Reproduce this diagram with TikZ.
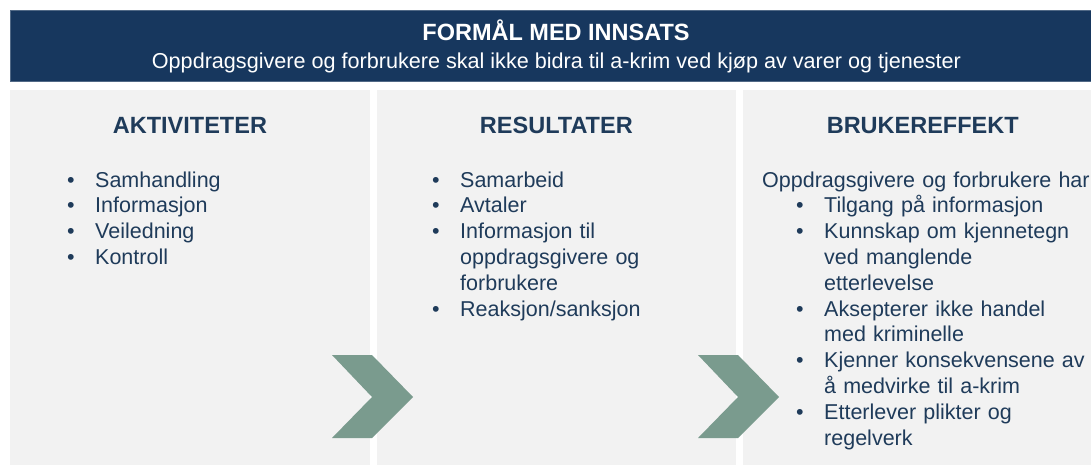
\documentclass[tikz,border=0pt]{standalone}
\usepackage{fontspec}
\setmainfont{Liberation Sans}
\usetikzlibrary{positioning}
\definecolor{navy}{HTML}{17375E}
\definecolor{inknavy}{HTML}{1F3B5A}
\definecolor{panelgray}{HTML}{F2F2F2}
\definecolor{sage}{HTML}{7A9B8E}
\newcommand{\itm}[1]{\hangindent=28pt\hangafter=1\makebox[28pt][l]{\textbullet}#1\par}

\begin{document}
\begin{tikzpicture}
    [
        x=1pt, y=-1pt,
        banner/.style={rectangle, fill=navy, draw=navy!75!white, line width=0.8pt, minimum width=1092pt, minimum height=71pt, inner sep=0pt, anchor=north west},
        panel/.style={rectangle, fill=panelgray, minimum width=359.5pt, minimum height=377pt, inner sep=0pt},
        head/.style={font=\bfseries\fontsize{23.5}{28}\selectfont, text=inknavy, inner sep=0pt, anchor=base},
        list/.style={anchor=base west, inner sep=0pt, text width=330pt, align=left, text=inknavy, font=\fontsize{21.5}{25.8}\selectfont},
        chev/.style={fill=sage},
    ]
        \useasboundingbox (0,0) rectangle (1091,465);
        \node[banner] (banner) at (10,10) {} ;
        \node[font=\bfseries\fontsize{23.5}{28}\selectfont, text=white, anchor=base] (title) at (556,41) {FORMÅL MED INNSATS} ;
        \node[font=\fontsize{21.6}{26}\selectfont, text=white, anchor=base] (subtitle) at (556.5,69) {Oppdragsgivere og forbrukere skal ikke bidra til a-krim ved kjøp av varer og tjenester} ;
        \node[panel, anchor=north west] (p1) at (10,89.5) {} ;
        \node[panel] (p2) [right = 6.5pt of p1] {} ;
        \node[panel] (p3) [right = 6.5pt of p2] {} ;
        \node[head] (h1) at ([yshift=-44pt]p1.north) {AKTIVITETER} ;
        \node[head] (h2) at ([yshift=-44pt]p2.north) {RESULTATER} ;
        \node[head] (h3) at ([yshift=-44pt]p3.north) {BRUKEREFFEKT} ;
        \foreach \cx in {372.5,738.5}
            \fill[chev] (\cx-40.5,355) -- ++(40,0) -- ++(41,42) -- ++(-41,41) -- ++(-40,0) -- ++(40,-41) -- cycle ;
        \node[list] (l1) at (67,187) {\itm{Samhandling}\itm{Informasjon}\itm{Veiledning}\itm{Kontroll}} ;
        \node[list] (l2) at (432,187) {\itm{Samarbeid}\itm{Avtaler}\itm{Informasjon til\newline oppdragsgivere og\newline forbrukere}\itm{Reaksjon/sanksjon}} ;
        \node[list] (l3) at (762,187) {Oppdragsgivere og forbrukere har\par\leftskip=34pt \itm{Tilgang på informasjon}\itm{Kunnskap om kjennetegn\newline ved manglende\newline etterlevelse}\itm{Aksepterer ikke handel\newline med kriminelle}\itm{Kjenner konsekvensene av\newline å medvirke til a-krim}\itm{Etterlever plikter og\newline regelverk}} ;
    \end{tikzpicture}
\end{document}
